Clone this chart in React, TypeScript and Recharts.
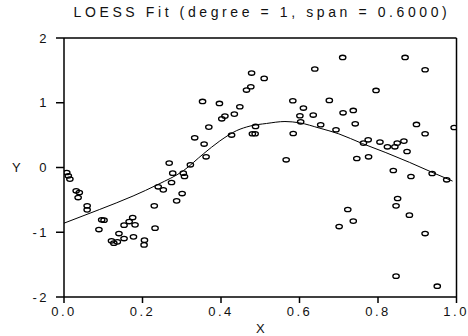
import { ScatterChart, Scatter, XAxis, YAxis, ReferenceLine } from 'recharts';

const obsX = [
  0.007, 0.011, 0.015, 0.031, 0.039, 0.036, 0.059, 0.059, 0.096, 0.102,
  0.089, 0.175, 0.166, 0.153, 0.181, 0.14, 0.121, 0.127, 0.136, 0.153,
  0.177, 0.205, 0.204, 0.23, 0.232, 0.24, 0.253, 0.274, 0.301, 0.287,
  0.478, 0.51, 0.476, 0.465, 0.353, 0.396, 0.448, 0.583, 0.61, 0.41,
  0.402, 0.434, 0.601, 0.603, 0.369, 0.488, 0.48, 0.487, 0.427, 0.584,
  0.333, 0.357, 0.362, 0.566, 0.268, 0.322, 0.277, 0.304, 0.307, 0.71,
  0.869, 0.639, 0.92, 0.795, 0.676, 0.635, 0.711, 0.737, 0.654, 0.693,
  0.742, 0.898, 0.92, 0.994, 0.763, 0.775, 0.805, 0.824, 0.843, 0.849,
  0.866, 0.874, 0.746, 0.776, 0.839, 0.884, 0.938, 0.975, 0.85, 0.846,
  0.723, 0.88, 0.737, 0.701, 0.92, 0.846, 0.951,
];
const obsY = [
  -0.077, -0.128, -0.179, -0.36, -0.386, -0.464, -0.592, -0.654, -0.808, -0.813,
  -0.958, -0.773, -0.835, -0.89, -0.886, -1.02, -1.133, -1.168, -1.148, -1.097,
  -1.071, -1.122, -1.195, -0.592, -0.937, -0.298, -0.345, -0.232, -0.402, -0.515,
  1.459, 1.376, 1.247, 1.196, 1.02, 0.989, 0.938, 1.031, 0.918, 0.794,
  0.752, 0.825, 0.799, 0.706, 0.624, 0.634, 0.521, 0.521, 0.501, 0.525,
  0.459, 0.362, 0.165, 0.119, 0.068, 0.042, -0.087, -0.087, -0.139, 1.7,
  1.7, 1.521, 1.51, 1.19, 1.036, 0.81, 0.845, 0.881, 0.66, 0.583,
  0.675, 0.665, 0.521, 0.618, 0.377, 0.428, 0.393, 0.32, 0.32, 0.377,
  0.408, 0.247, 0.139, 0.165, -0.046, -0.139, -0.093, -0.19, -0.479, -0.592,
  -0.649, -0.736, -0.828, -0.912, -1.02, -1.678, -1.833,
];

// loess fit curve
const fitX = [0, 0.09, 0.176, 0.24, 0.304, 0.355, 0.397, 0.44, 0.474, 0.516, 0.563, 0.6, 0.65, 0.7, 0.76, 0.82, 0.88, 0.94, 0.99];
const fitY = [-0.86, -0.65, -0.44, -0.26, -0.05, 0.21, 0.41, 0.57, 0.64, 0.68, 0.71, 0.69, 0.61, 0.52, 0.37, 0.23, 0.08, -0.08, -0.21];

const xTicks = [0, 0.2, 0.4, 0.6, 0.8, 1];
const yTicks = [-2, -1, 0, 1, 2];

const points = obsX.map((x, i) => ({ x, y: obsY[i] }));
const fit = fitX.map((x, i) => ({ x, y: fitY[i] }));

const font = '"Liberation Sans", Arial, sans-serif';
const tickStyle = { fontSize: 13, fill: '#111', fontFamily: font, letterSpacing: 2.5 };

const Ring = (props: any) => {
  const { cx, cy } = props;
  return <ellipse cx={cx} cy={cy} rx={3.2} ry={2.2} fill="none" stroke="#000" strokeWidth={1.3} />;
};

const NoDot = () => <g />;

export default function App() {
  return (
    <div style={{ position: 'absolute', left: 0, top: 0, width: 468, height: 336, background: '#fff' }}>
      <div
        style={{
          position: 'absolute', left: 0, top: 4, width: 524, textAlign: 'center',
          fontFamily: font, fontSize: 14, lineHeight: '16px', letterSpacing: 3.6, color: '#111',
        }}
      >
        LOESS Fit (degree = 1, span = 0.6000)
      </div>
      <ScatterChart width={468} height={336} margin={{ top: 38, right: 11.5, bottom: 9, left: 24 }}>
        <XAxis
          type="number"
          dataKey="x"
          domain={[0, 1]}
          ticks={xTicks}
          tickFormatter={(v: number) => v.toFixed(1)}
          height={30}
          tickSize={6}
          tickMargin={4}
          stroke="#000"
          strokeWidth={1.5}
          tick={tickStyle}
          allowDataOverflow
          label={{ value: 'X', position: 'bottom', offset: -3, style: { fontSize: 13, fill: '#111', fontFamily: font } }}
        />
        <YAxis
          type="number"
          dataKey="y"
          domain={[-2, 2]}
          ticks={yTicks}
          width={40}
          tickSize={8}
          tickMargin={7}
          stroke="#000"
          strokeWidth={1.5}
          tick={tickStyle}
          allowDataOverflow
          label={{ value: 'Y', position: 'insideLeft', offset: -12, style: { fontSize: 13, fill: '#111', fontFamily: font } }}
        />
        <ReferenceLine y={2} stroke="#000" strokeWidth={1.5} />
        <ReferenceLine x={1} stroke="#000" strokeWidth={1.5} />
        <Scatter data={points} shape={Ring} isAnimationActive={false} />
        <Scatter
          data={fit}
          shape={NoDot}
          line={{ stroke: '#000', strokeWidth: 1 }}
          lineJointType="monotoneX"
          isAnimationActive={false}
        />
      </ScatterChart>
    </div>
  );
}
